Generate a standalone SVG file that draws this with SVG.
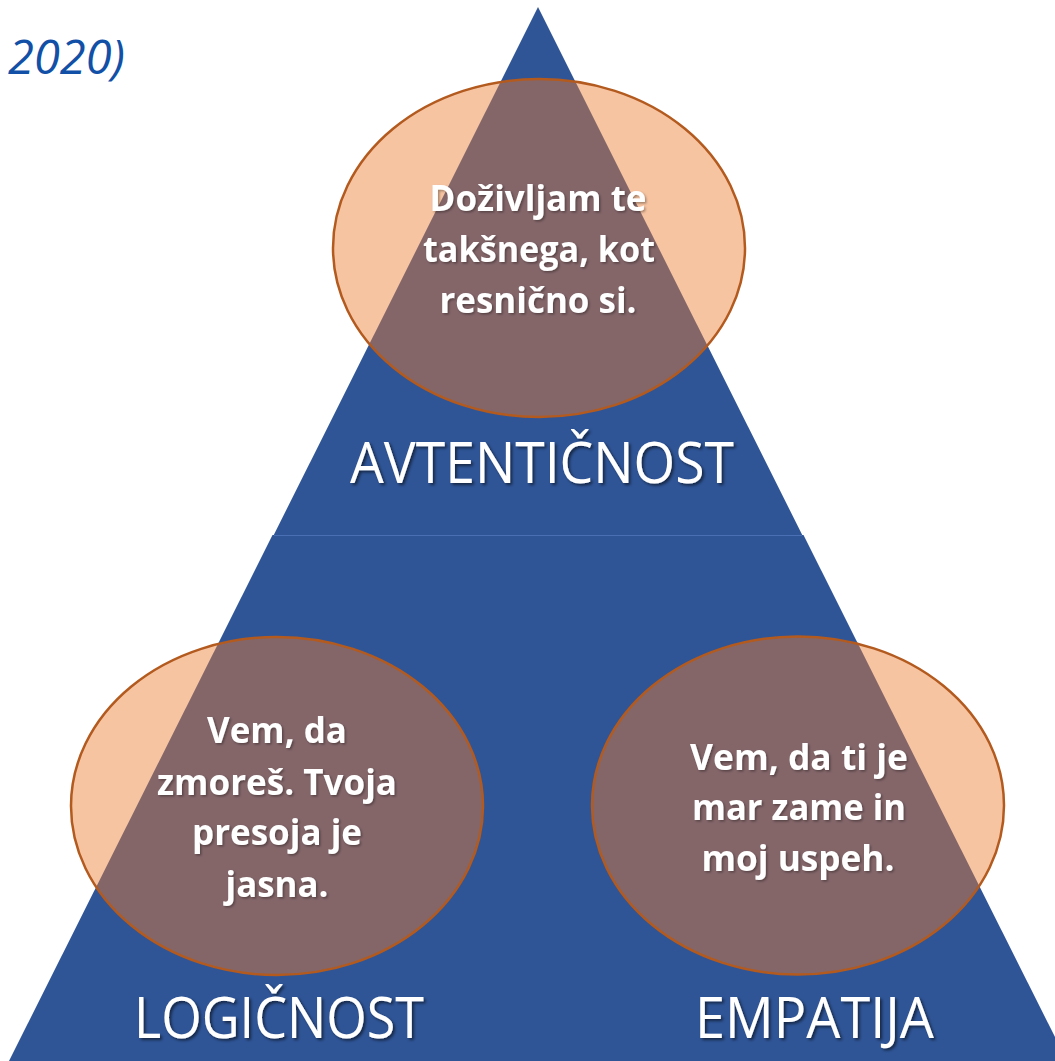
<svg xmlns="http://www.w3.org/2000/svg" width="1055" height="1061" viewBox="0 0 1055 1061">
  <defs>
    <filter id="shadow" x="-10%" y="-20%" width="130%" height="150%">
      <feDropShadow dx="2" dy="2" stdDeviation="1.5" flood-color="#000000" flood-opacity="0.55"/>
    </filter>
    <filter id="shadowSoft" x="-10%" y="-20%" width="130%" height="150%">
      <feDropShadow dx="1.5" dy="1.5" stdDeviation="1.2" flood-color="#000000" flood-opacity="0.35"/>
    </filter>
  </defs>
  <style>
    .tri { fill: #2F5597; }
    .seam { stroke: #4A70B3; stroke-width: 1.2; }
    .oval { fill: #ED7D31; fill-opacity: 0.45; stroke: #B35A1F; stroke-width: 2.5; }
    .body { font-family: "Open Sans", "Noto Sans", "Liberation Sans", sans-serif; font-weight: 700; font-size: 36px; fill: #FFFFFF; text-anchor: middle; filter: url(#shadowSoft); }
    .label { font-family: "Open Sans", "Noto Sans", "Liberation Sans", sans-serif; font-weight: 400; font-size: 57px; fill: #FFFFFF; filter: url(#shadow); }
    .cite { font-family: "Open Sans", "Noto Sans", "Liberation Sans", sans-serif; font-style: italic; font-size: 47px; fill: #1150A6; }
  </style>
  <rect width="1055" height="1061" fill="#FFFFFF"/>

  <text class="cite" x="8" y="74">2020)</text>

  <g id="pyramid">
    <polygon class="tri" points="538,7 273.5,535.5 802.5,535.5"/>
    <polygon class="tri" points="272.5,535 803.5,535 1067,1061 9,1061"/>
    <line class="seam" x1="274" y1="535.5" x2="802" y2="535.5"/>
  </g>

  <g id="connectors"></g>

  <g id="node-avtenticnost">
    <ellipse class="oval" cx="539" cy="248" rx="206" ry="169"/>
    <text class="body" x="538" y="211" textLength="217" lengthAdjust="spacingAndGlyphs">Doživljam te</text>
    <text class="body" x="539" y="262" textLength="232" lengthAdjust="spacingAndGlyphs">takšnega, kot</text>
    <text class="body" x="538" y="313" textLength="197" lengthAdjust="spacingAndGlyphs">resnično si.</text>
    <text class="label" x="350" y="483" textLength="384" lengthAdjust="spacingAndGlyphs">AVTENTIČNOST</text>
  </g>

  <g id="node-logicnost">
    <ellipse class="oval" cx="277" cy="806" rx="206" ry="169"/>
    <text class="body" x="277" y="743" textLength="140" lengthAdjust="spacingAndGlyphs">Vem, da</text>
    <text class="body" x="277" y="795" textLength="240" lengthAdjust="spacingAndGlyphs">zmoreš. Tvoja</text>
    <text class="body" x="277" y="845" textLength="170" lengthAdjust="spacingAndGlyphs">presoja je</text>
    <text class="body" x="277" y="897" textLength="103" lengthAdjust="spacingAndGlyphs">jasna.</text>
    <text class="label" x="134" y="1038" textLength="290" lengthAdjust="spacingAndGlyphs">LOGIČNOST</text>
  </g>

  <g id="node-empatija">
    <ellipse class="oval" cx="798" cy="805.5" rx="206" ry="169"/>
    <text class="body" x="799" y="770" textLength="218" lengthAdjust="spacingAndGlyphs">Vem, da ti je</text>
    <text class="body" x="799" y="820" textLength="214" lengthAdjust="spacingAndGlyphs">mar zame in</text>
    <text class="body" x="798" y="871" textLength="193" lengthAdjust="spacingAndGlyphs">moj uspeh.</text>
    <text class="label" x="695" y="1038" textLength="239" lengthAdjust="spacingAndGlyphs">EMPATIJA</text>
  </g>
</svg>
